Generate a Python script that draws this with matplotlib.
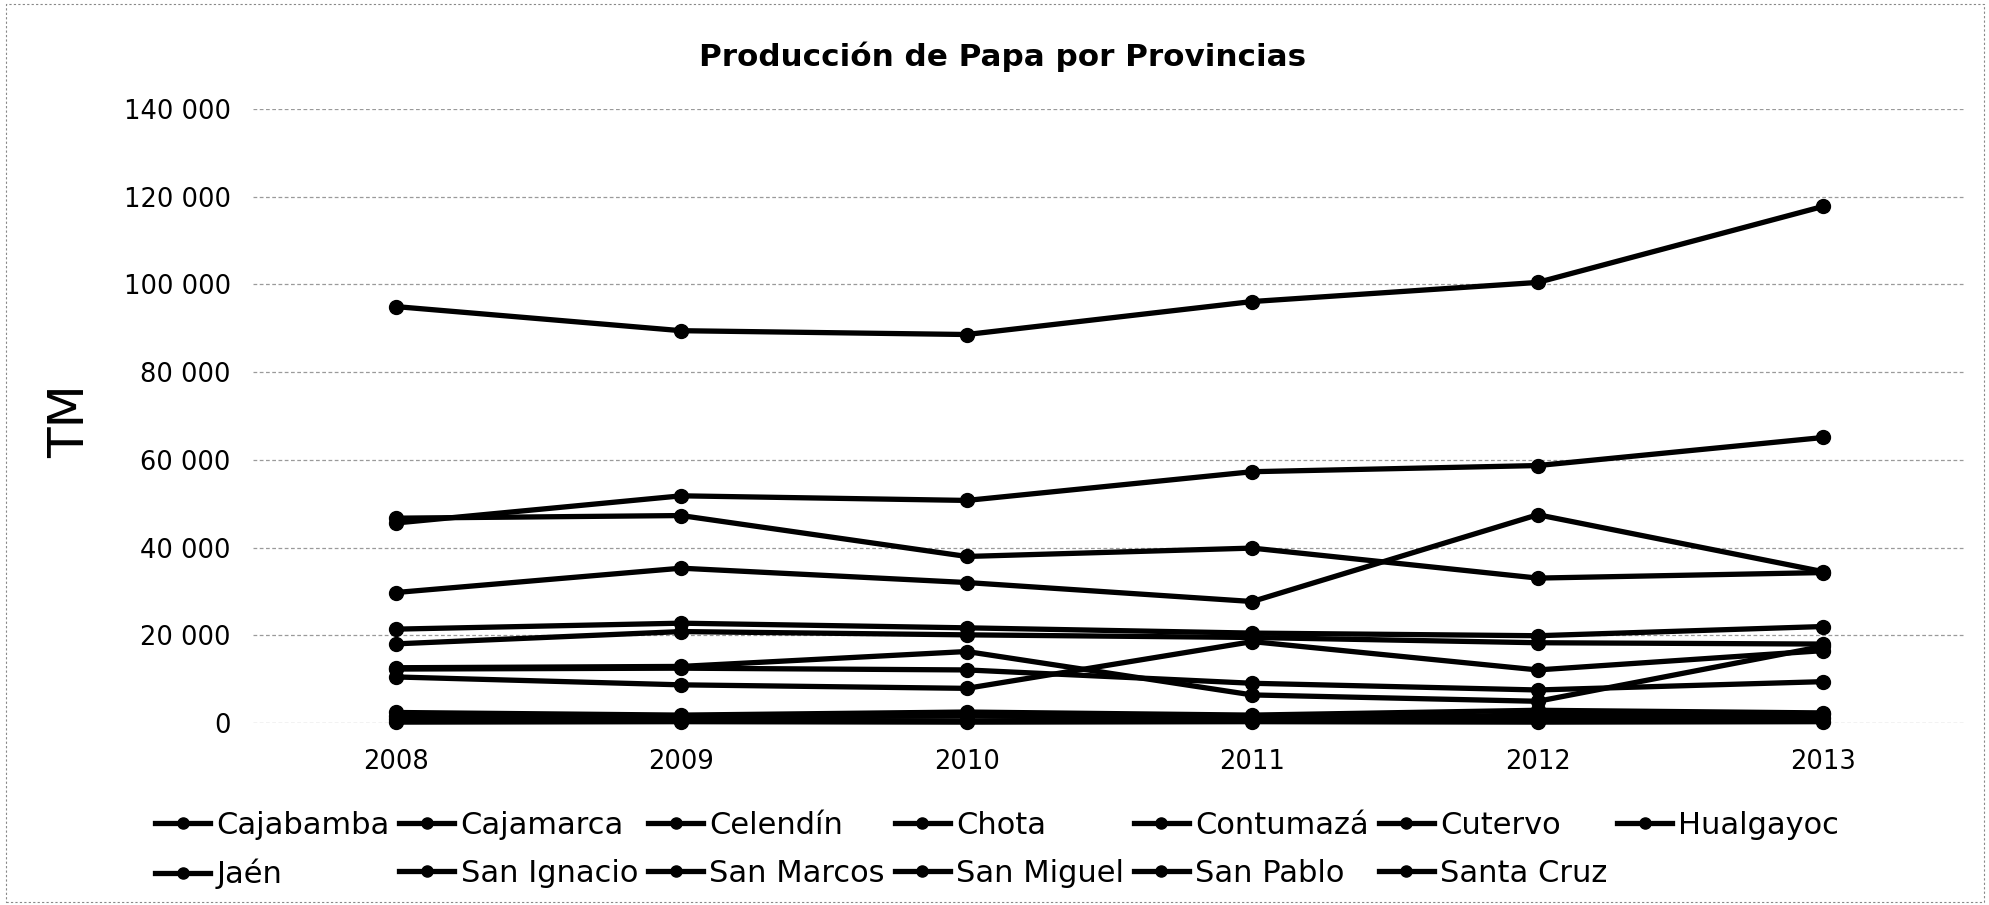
import matplotlib
matplotlib.use("Agg")
import matplotlib.pyplot as plt
from matplotlib.patches import Rectangle

years = ["2008", "2009", "2010", "2011", "2012", "2013"]

provincias = ["Cajabamba", "Cajamarca", "Celendín", "Chota", "Contumazá", "Cutervo",
              "Hualgayoc", "Jaén", "San Ignacio", "San Marcos", "San Miguel",
              "San Pablo", "Santa Cruz"]

cajabamba   = [21400, 22760, 21700, 20500, 19900, 22000]
cajamarca   = [94950, 89450, 88580, 96100, 100460, 117800]
celendin    = [18040, 20850, 20100, 19500, 18300, 18000]
chota       = [45600, 51800, 50750, 57300, 58700, 65100]
contumaza   = [1500, 1200, 1700, 1000, 1800, 2000]
cutervo     = [46700, 47300, 37970, 39880, 33040, 34300]
hualgayoc   = [29750, 35300, 32030, 27700, 47490, 34500]
jaen        = [800, 600, 500, 700, 800, 1200]
san_ignacio = [200, 300, 200, 300, 200, 300]
san_marcos  = [10500, 8700, 7900, 18560, 12100, 16500]
san_miguel  = [12600, 12900, 16300, 6400, 4950, 17500]
san_pablo   = [2400, 1800, 2500, 1800, 2900, 2300]
santa_cruz  = [12300, 12500, 12100, 9060, 7530, 9430]

series = [cajabamba, cajamarca, celendin, chota, contumaza, cutervo, hualgayoc,
          jaen, san_ignacio, san_marcos, san_miguel, san_pablo, santa_cruz]

yticks = [0, 20000, 40000, 60000, 80000, 100000, 120000, 140000]
ytick_labels = ["0", "20 000", "40 000", "60 000", "80 000", "100 000", "120 000", "140 000"]

plt.rcParams['font.family'] = ['DejaVu Sans']

fig = plt.figure(figsize=(19.9, 9.05), dpi=100)
ax = fig.add_axes([253/1990, 1-723/905, (1966-253)/1990, (723-109)/905])

x = list(range(len(years)))
handles = []
for name, vals in zip(provincias, series):
    h, = ax.plot(x, vals, color='black', lw=3.8, marker='o', markersize=10,
                 solid_joinstyle='round', label=name, clip_on=False)
    handles.append(h)

ax.set_xlim(-0.5, 5.5)
ax.set_ylim(0, 140000)
ax.set_xticks(x)
ax.set_xticklabels(years, fontsize=18.5)
ax.set_yticks(yticks)
ax.set_yticklabels(ytick_labels, fontsize=18.5)
ax.tick_params(axis='both', length=0)
ax.tick_params(axis='y', pad=16)
ax.tick_params(axis='x', pad=19)
for s in ax.spines.values():
    s.set_visible(False)
ax.yaxis.grid(True, color='#9a9a9a', linestyle=(0, (3, 2)), linewidth=0.9)
ax.set_axisbelow(True)

fig.text(1003/1990, 1-57/905, "Producción de Papa por Provincias", ha='center', va='center',
         fontsize=22.3, fontweight='bold')
fig.text(70/1990, 1-421/905, "TM", rotation=90, ha='center', va='center', fontsize=36)

order = [0, 7, 1, 8, 2, 9, 3, 10, 4, 11, 5, 12, 6]
fig.legend([handles[i] for i in order], [provincias[i] for i in order],
           ncol=7, loc='upper left', bbox_to_anchor=(155/1990, 1-811/905),
           frameon=False, fontsize=22, borderpad=0, borderaxespad=0,
           handlelength=1.8, handletextpad=0.2, columnspacing=0.33,
           labelspacing=0.62, markerscale=0.8)

fig.patches.append(Rectangle((0.003, 0.003), 0.994, 0.993, transform=fig.transFigure,
                             fill=False, edgecolor='#888888', linewidth=0.8,
                             linestyle=(0, (2, 2))))

fig.savefig("out.png", dpi=100, facecolor='white')
